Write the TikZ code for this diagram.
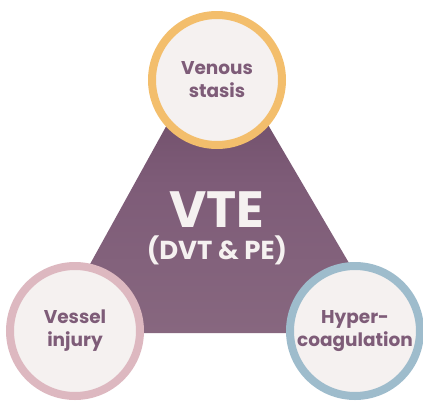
\documentclass[tikz,border=0pt]{standalone}
\usepackage{fontspec}
\setmainfont{Poppins}
\usetikzlibrary{shadings}
\definecolor{plum}{HTML}{7E5C78}
\definecolor{plumdark}{HTML}{664560}
\definecolor{plumlight}{HTML}{87677F}
\definecolor{paper}{HTML}{F5F1F0}
\definecolor{ringgold}{HTML}{F3BE6C}
\definecolor{ringrose}{HTML}{DDB8C0}
\definecolor{ringblue}{HTML}{9EBCCC}
\tikzset{
  factor/.style={circle, fill=paper, line width=8pt, minimum size=130pt, inner sep=0pt},
  factorlabel/.style={font=\fontsize{18.5}{23}\selectfont\bfseries, text=plum, align=center},
}
\begin{document}
\begin{tikzpicture}[x=1pt,y=-1pt]
  \useasboundingbox (0,0) rectangle (423,402);
  % central triangle
  \shade[top color=plumdark, bottom color=plumlight, middle color=plum]
    (216,36) -- (390,333) -- (52,333) -- cycle;
  \node[font=\fontsize{51}{51}\selectfont\bfseries, text=paper] (vte) at (217,210) {VTE};
  \node[font=\fontsize{26}{26}\selectfont\bfseries, text=paper] (dvt) at (217,250) {(DVT \& PE)};
  % risk factors
  \node[factor, draw=ringgold] (stasis) at (217,80) {};
  \node[factor, draw=ringrose] (injury) at (75,331) {};
  \node[factor, draw=ringblue] (coag) at (355,331) {};
  \node[factorlabel] at (stasis) {Venous\\stasis};
  \node[factorlabel] at (injury) {Vessel\\injury};
  \node[factorlabel] at (coag) {Hyper-\\coagulation};
\end{tikzpicture}
\end{document}
